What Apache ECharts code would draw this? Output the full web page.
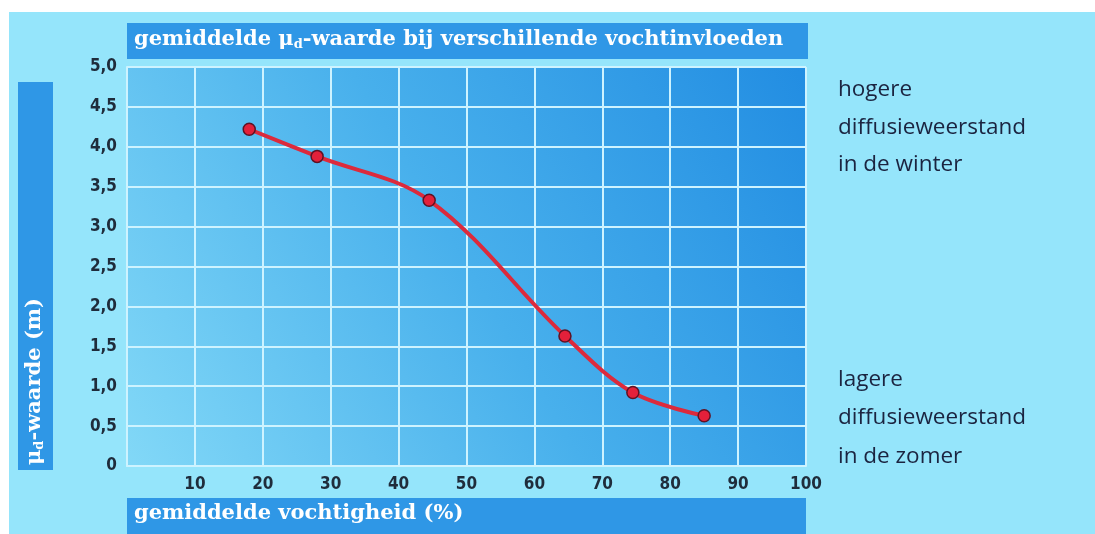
<!DOCTYPE html>
<html>
<head>
<meta charset="utf-8">
<script src="https://cdn.jsdelivr.net/npm/echarts@6/dist/echarts.min.js"></script>
<style>
html,body{margin:0;padding:0;background:#ffffff;}
#chart{width:1095px;height:534px;}
</style>
</head>
<body>
<div id="chart"></div>
<script>
// Data
const humidity = [18, 28, 44.5, 64.5, 74.5, 85];
const muD = [4.22, 3.88, 3.33, 1.63, 0.92, 0.63];
const xTicks = [10, 20, 30, 40, 50, 60, 70, 80, 90, 100];
const yTicks = ['0', '0,5', '1,0', '1,5', '2,0', '2,5', '3,0', '3,5', '4,0', '4,5', '5,0'];
const titleParts = ['gemiddelde ', 'μ', 'd', '-waarde bij verschillende vochtinvloeden'];
const xTitle = 'gemiddelde vochtigheid (%)';
const yTitle = ['μ', 'd', '-waarde (m)'];
const notesTop = ['hogere', 'diffusieweerstand', 'in de winter'];
const notesBottom = ['lagere', 'diffusieweerstand', 'in de zomer'];

const barColor = '#2f97e6';
const serif = '"DejaVu Serif", "Liberation Serif", serif';
const tickFont = '"DejaVu Sans Condensed", "DejaVu Sans", sans-serif';

const richT = {
  t: { fontFamily: serif, fontWeight: 'bold', fontSize: 21, fill: '#ffffff' },
  s: { fontFamily: serif, fontWeight: 'bold', fontSize: 13, fill: '#ffffff', padding: [10, 0, 0, 0] }
};

const chart = echarts.init(document.getElementById('chart'));
const option = {
  backgroundColor: '#ffffff',
  animation: false,
  grid: {
    left: 127, right: 289, top: 67, bottom: 68,
    show: true,
    borderWidth: 0,
    backgroundColor: new echarts.graphic.LinearGradient(0, 1, 1, 0, [
      { offset: 0, color: '#82d8f7' },
      { offset: 0.5, color: '#48b0ec' },
      { offset: 1, color: '#228de2' }
    ])
  },
  xAxis: {
    type: 'value', min: 0, max: 100, interval: 10,
    axisLine: { show: true, lineStyle: { color: '#cdf3ff', width: 2 } },
    axisTick: { show: false },
    splitLine: { show: true, lineStyle: { color: '#cdf3ff', width: 2 } },
    axisLabel: {
      margin: 10,
      color: '#1f2c3b', fontSize: 17, fontWeight: 'bold',
      fontFamily: tickFont,
      formatter: function (v) { return xTicks.indexOf(v) >= 0 ? String(v) : ''; }
    }
  },
  yAxis: {
    type: 'value', min: 0, max: 5, interval: 0.5,
    axisLine: { show: true, lineStyle: { color: '#cdf3ff', width: 2 } },
    axisTick: { show: false },
    splitLine: { show: true, lineStyle: { color: '#cdf3ff', width: 2 } },
    axisLabel: {
      margin: 10,
      color: '#1f2c3b', fontSize: 17, fontWeight: 'bold',
      fontFamily: tickFont,
      formatter: function (v) { return yTicks[Math.round(v * 2)]; }
    }
  },
  series: [{
    type: 'line',
    data: humidity.map((x, i) => [x, muD[i]]),
    smooth: 0.35,
    symbol: 'circle',
    symbolSize: 12,
    lineStyle: { color: '#dc2a3c', width: 4 },
    itemStyle: { color: '#e3203a', borderColor: '#5e1224', borderWidth: 1.5 },
    z: 5
  }],
  graphic: [
    // outer light panel
    { type: 'rect', left: 9, top: 12, z: -10, shape: { width: 1086, height: 522 }, style: { fill: '#95e5fb' } },
    // title bar
    { type: 'rect', left: 127, top: 23, z: 1, shape: { width: 681, height: 36 }, style: { fill: barColor } },
    { type: 'text', left: 134, top: 29, z: 2,
      style: {
        text: '{t|' + titleParts[0] + '}{t|' + titleParts[1] + '}{s|' + titleParts[2] + '}{t|' + titleParts[3] + '}',
        rich: richT
      }
    },
    // x title bar
    { type: 'rect', left: 127, top: 498, z: 1, shape: { width: 679, height: 36 }, style: { fill: barColor } },
    { type: 'text', left: 134, top: 503, z: 2,
      style: { text: xTitle, fontFamily: serif, fontWeight: 'bold', fontSize: 21, fill: '#ffffff' } },
    // y title bar
    { type: 'rect', left: 18, top: 82, z: 1, shape: { width: 35, height: 388 }, style: { fill: barColor } },
    { type: 'text', x: 23, y: 465, rotation: Math.PI / 2, z: 2,
      style: {
        text: '{t|' + yTitle[0] + '}{s|' + yTitle[1] + '}{t|' + yTitle[2] + '}',
        textAlign: 'left', textVerticalAlign: 'top',
        rich: richT
      }
    },
    // right annotations
    { type: 'text', left: 838, top: 71, z: 2,
      style: { text: notesTop.join('\n'), fontFamily: '"Open Sans", sans-serif', fontSize: 22.5, lineHeight: 37.5, fill: '#1b2440' } },
    { type: 'text', left: 838, top: 360, z: 2,
      style: { text: notesBottom.join('\n'), fontFamily: '"Open Sans", sans-serif', fontSize: 22.5, lineHeight: 38.5, fill: '#1b2440' } }
  ]
};
chart.setOption(option);
</script>
</body>
</html>
